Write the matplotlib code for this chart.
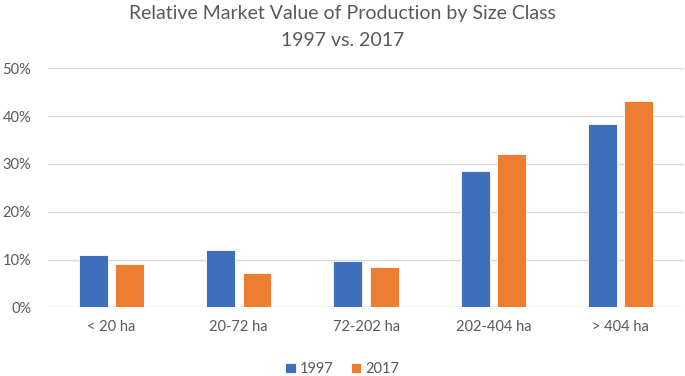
import numpy as np
import matplotlib.pyplot as plt
from matplotlib.ticker import PercentFormatter

# size classes and relative market value shares (fraction of total)
categories = ["< 20 ha", "20-72 ha", "72-202 ha", "202-404 ha", "> 404 ha"]
share_1997 = [0.110, 0.120, 0.096, 0.286, 0.384]
share_2017 = [0.090, 0.072, 0.084, 0.321, 0.432]
yticks = [0, 0.1, 0.2, 0.3, 0.4, 0.5]

plt.rcParams['font.family'] = ['Lato', 'DejaVu Sans']
grey = "#595959"

fig = plt.figure(figsize=(6.85, 3.76), dpi=100)
ax = fig.add_axes([0.0698, 0.1827, 0.9292, 0.6356])

x = np.arange(len(categories))
w = 0.226
ax.bar(x - 0.143, share_1997, w, color="#3F6EBA", edgecolor="white", linewidth=0.6, label="1997", zorder=3)
ax.bar(x + 0.143, share_2017, w, color="#ED7D31", edgecolor="white", linewidth=0.6, label="2017", zorder=3)

ax.set_xlim(-0.5, len(categories) - 0.5)
ax.set_ylim(0, 0.5)
ax.set_yticks(yticks)
ax.yaxis.set_major_formatter(PercentFormatter(1.0, decimals=0))
ax.set_xticks(x)
ax.set_xticklabels(categories)
ax.grid(axis="y", color="#D9D9D9", linewidth=1.0, zorder=0)
for s in ax.spines.values():
    s.set_visible(False)
ax.tick_params(length=0, colors=grey, labelsize=10.5)
ax.tick_params(axis="x", pad=9)
ax.tick_params(axis="y", pad=12)

fig.text(0.5, 0.965, "Relative Market Value of Production by Size Class", ha="center", va="center",
         fontsize=14, color=grey)
fig.text(0.5, 0.893, "1997 vs. 2017", ha="center", va="center", fontsize=14, color=grey)

# legend centred at the bottom of the figure
ax.legend(loc="center", bbox_to_anchor=(0.5, 0.019), bbox_transform=fig.transFigure, ncol=2, frameon=False,
          fontsize=10.5, labelcolor=grey, handlelength=0.7, handleheight=0.7, handletextpad=0.3,
          columnspacing=1.2, borderpad=0)

fig.savefig("out.png", dpi=100)
